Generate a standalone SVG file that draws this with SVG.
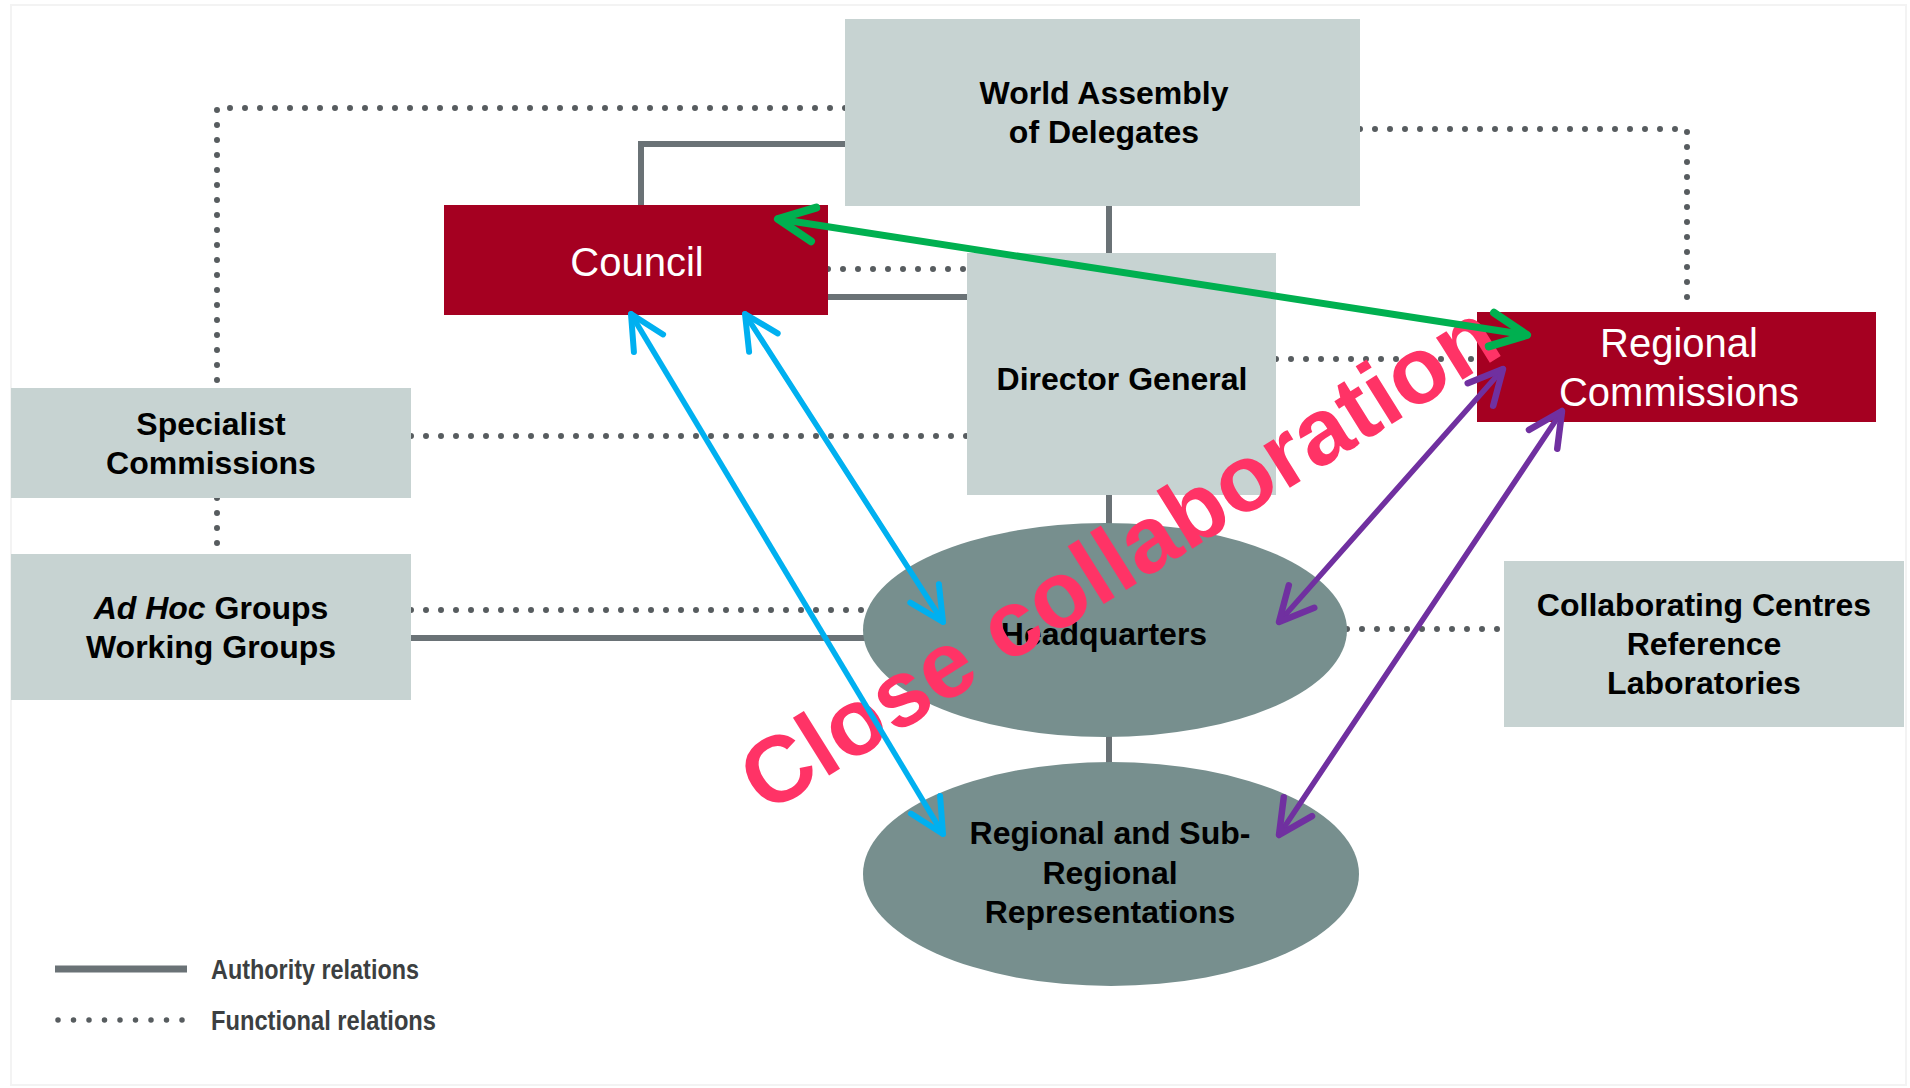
<svg xmlns="http://www.w3.org/2000/svg" width="1910" height="1088" viewBox="0 0 1910 1088">
<style>
.auth{fill:none;stroke:#6a7276;stroke-width:6}
.func{fill:none;stroke:#575c5f;stroke-width:6;stroke-linecap:round;stroke-dasharray:0 15}
.box{fill:#c7d3d2}
.red{fill:#a50021}
.oval{fill:#778f8e}
.lbl{font-family:"Liberation Sans",Arial,sans-serif;font-weight:bold;font-size:32px;fill:#000;text-anchor:middle}
.wlbl{font-family:"Liberation Sans",Arial,sans-serif;font-size:40px;fill:#fff;text-anchor:middle}
.leg{font-family:"Liberation Sans Narrow","Liberation Sans",Arial,sans-serif;font-weight:bold;font-size:27px;fill:#3c3f41}
.blue{fill:none;stroke:#00b0f0;stroke-width:5.5;stroke-linecap:round}
.purple{fill:none;stroke:#7030a0;stroke-width:5.5;stroke-linecap:round}
.green{fill:none;stroke:#00b050;stroke-width:7;stroke-linecap:round}
</style>
<defs>
<marker id="ah-blue" viewBox="-42 -24 50 48" refX="0" refY="0" markerWidth="50" markerHeight="48" markerUnits="userSpaceOnUse" orient="auto-start-reverse"><path d="M-34,-17 L0,0 L-34,17" fill="none" stroke="#00b0f0" stroke-width="6" stroke-linecap="round" stroke-linejoin="round"/></marker>
<marker id="ah-purple" viewBox="-42 -24 50 48" refX="0" refY="0" markerWidth="50" markerHeight="48" markerUnits="userSpaceOnUse" orient="auto-start-reverse"><path d="M-34,-17 L0,0 L-34,17" fill="none" stroke="#7030a0" stroke-width="6.5" stroke-linecap="round" stroke-linejoin="round"/></marker>
<marker id="ah-green" viewBox="-44 -26 52 52" refX="0" refY="0" markerWidth="52" markerHeight="52" markerUnits="userSpaceOnUse" orient="auto-start-reverse"><path d="M-36,-17 L0,0 L-36,17" fill="none" stroke="#00b050" stroke-width="8" stroke-linecap="round" stroke-linejoin="round"/></marker>
</defs>
<rect x="0" y="0" width="1910" height="1088" fill="#fff"/>
<rect x="11" y="5" width="1895" height="1080" fill="none" stroke="#f3f3f3" stroke-width="2"/>

<g id="connectors">
<path class="auth" d="M845,144 H641 V205"/>
<path class="auth" d="M828,297 H967"/>
<path class="auth" d="M1109,206 V253"/>
<path class="auth" d="M1109,495 V524"/>
<path class="auth" d="M1109,736 V763"/>
<path class="auth" d="M411,638 H866"/>
<path class="func" d="M845,108 H217 V388"/>
<path class="func" d="M217,498 V554"/>
<path class="func" d="M1360,129 H1687 V312"/>
<path class="func" d="M828,269 H967"/>
<path class="func" d="M411,436 H967"/>
<path class="func" d="M1276,359 H1477"/>
<path class="func" d="M411,610 H866"/>
<path class="func" d="M1347,629 H1504"/>
</g>

<g id="world-assembly">
<rect class="box" x="845" y="19" width="515" height="187"/>
<text class="lbl" x="1104" y="104">World Assembly</text>
<text class="lbl" x="1104" y="143">of Delegates</text>
</g>
<g id="council">
<rect class="red" x="444" y="205" width="384" height="110"/>
<text class="wlbl" x="637" y="276">Council</text>
</g>
<g id="director-general">
<rect class="box" x="967" y="253" width="309" height="242"/>
<text class="lbl" x="1122" y="390">Director General</text>
</g>
<g id="regional-commissions">
<rect class="red" x="1477" y="312" width="399" height="110"/>
<text class="wlbl" x="1679" y="357">Regional</text>
<text class="wlbl" x="1679" y="406">Commissions</text>
</g>
<g id="specialist-commissions">
<rect class="box" x="11" y="388" width="400" height="110"/>
<text class="lbl" x="211" y="435">Specialist</text>
<text class="lbl" x="211" y="474">Commissions</text>
</g>
<g id="ad-hoc-groups">
<rect class="box" x="11" y="554" width="400" height="146"/>
<text class="lbl" x="211" y="619"><tspan font-style="italic">Ad Hoc</tspan> Groups</text>
<text class="lbl" x="211" y="658">Working Groups</text>
</g>
<g id="headquarters">
<ellipse class="oval" cx="1105" cy="630" rx="242" ry="107"/>
<text class="lbl" x="1104" y="645">Headquarters</text>
</g>
<g id="collaborating-centres">
<rect class="box" x="1504" y="561" width="400" height="166"/>
<text class="lbl" x="1704" y="616">Collaborating Centres</text>
<text class="lbl" x="1704" y="655">Reference</text>
<text class="lbl" x="1704" y="694">Laboratories</text>
</g>
<g id="regional-representations">
<ellipse class="oval" cx="1111" cy="874" rx="248" ry="112"/>
<text class="lbl" x="1110" y="844">Regional and Sub-</text>
<text class="lbl" x="1110" y="884">Regional</text>
<text class="lbl" x="1110" y="923">Representations</text>
</g>

<g id="legend">
<line x1="55" y1="969" x2="187" y2="969" stroke="#6a7276" stroke-width="7"/>
<line x1="58" y1="1020" x2="186" y2="1020" stroke="#575c5f" stroke-width="5.5" stroke-linecap="round" stroke-dasharray="0 15.5"/>
<text class="leg" x="211" y="979" textLength="208" lengthAdjust="spacingAndGlyphs">Authority relations</text>
<text class="leg" x="211" y="1030" textLength="225" lengthAdjust="spacingAndGlyphs">Functional relations</text>
</g>

<g id="close-collaboration">
<text x="766" y="815" transform="rotate(-32 766 815)" font-family="Liberation Sans,Arial,sans-serif" font-weight="bold" font-size="94" fill="#ff3366">Close collaboration</text>
</g>

<g id="collaboration-arrows">
<path class="green" d="M778,219 L1527,335" marker-start="url(#ah-green)" marker-end="url(#ah-green)"/>
<path class="blue" d="M631,314 L943,834" marker-start="url(#ah-blue)" marker-end="url(#ah-blue)"/>
<path class="blue" d="M745,314 L943,622" marker-start="url(#ah-blue)" marker-end="url(#ah-blue)"/>
<path class="purple" d="M1503,369 L1279,622" marker-start="url(#ah-purple)" marker-end="url(#ah-purple)"/>
<path class="purple" d="M1562,411 L1279,835" marker-start="url(#ah-purple)" marker-end="url(#ah-purple)"/>
</g>
</svg>
